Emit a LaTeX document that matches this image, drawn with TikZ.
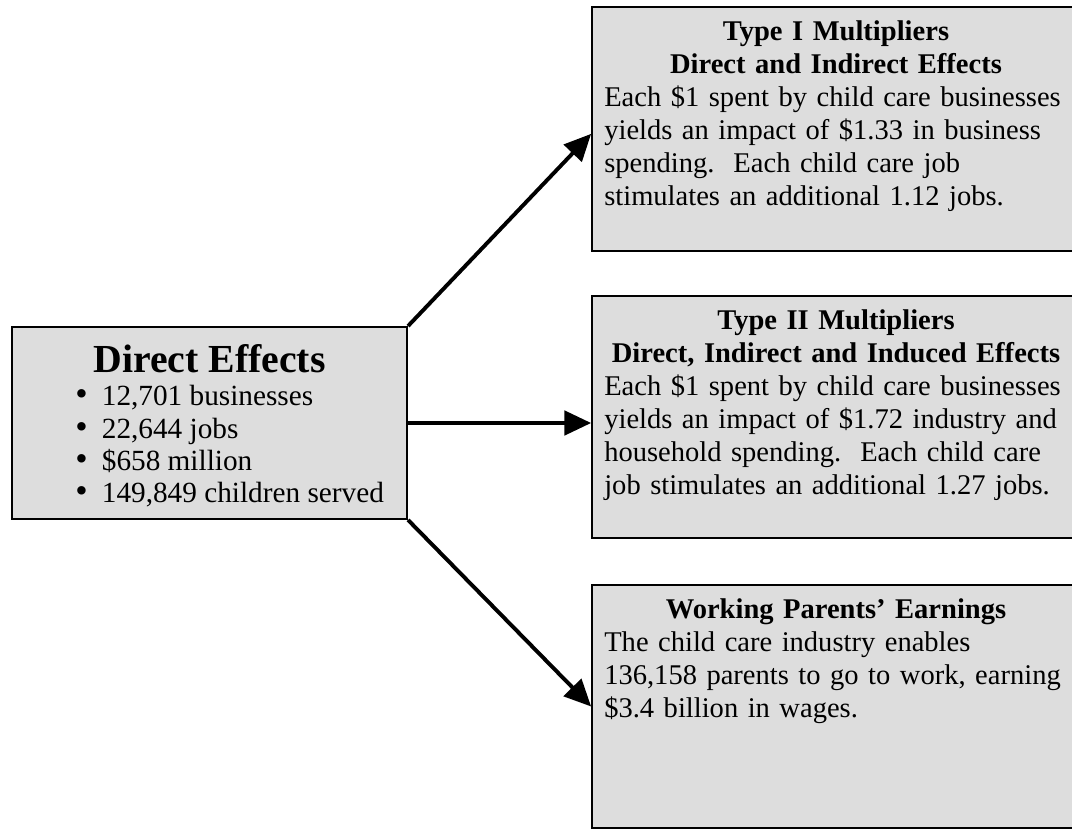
\documentclass[tikz,border=0pt]{standalone}
\usepackage{fontspec}
\setmainfont{Liberation Serif}
\usetikzlibrary{positioning, arrows.meta}
\definecolor{boxgray}{HTML}{DDDDDD}
\newcommand{\blt}{{\fontsize{14.5}{13}\selectfont\textbullet}\hspace{5.8pt}}
\tikzstyle{effect} = [rectangle, draw=black, line width=0.8pt, fill=boxgray, inner sep=0pt]
\tikzstyle{multiplier} = [rectangle, draw=black, line width=0.8pt, fill=boxgray, minimum width=200pt, inner sep=0pt]
\tikzstyle{boxtext} = [inner sep=0pt, text width=190pt, align=left, font=\fontsize{11.7}{13.5}\selectfont\hyphenpenalty 10000\relax]
\tikzstyle{arrow} = [line width=1.6pt, -{Triangle[length=11pt, width=10pt]}]

\begin{document}
\begin{tikzpicture}[x=0.41pt, y=-0.41pt]
        \useasboundingbox (0,0) rectangle (1072,829);
        \node (direct) [effect, minimum width=162pt, minimum height=78.7pt] at (209.5,423) {};
        \node (type1) [multiplier, minimum height=100pt] at (836,129) {};
        \node (type2) [multiplier, minimum height=99.2pt] at (836,417) {};
        \node (parents) [multiplier, minimum height=99.6pt] at (836,706.5) {};

        % texts in the boxes
        \node (directhead) [below=7.5pt of direct.north, inner sep=0pt, font=\fontsize{16.3}{18}\selectfont\bfseries] {Direct Effects};
        \node (directlist) [below right=24.2pt and 26.2pt of direct.north west, inner sep=0pt, align=left, font=\fontsize{12}{13.2}\selectfont]
            {\blt 12,701 businesses\\ \blt 22,644 jobs\\ \blt \$658 million\\ \blt 149,849 children served};
        \node (type1text) [boxtext, below=6pt of type1.north]
            {{\centering\bfseries Type I Multipliers\\ Direct and Indirect Effects\par}Each \$1 spent by child care businesses\\ yields an impact of \$1.33 in business\\ spending.\ \ Each child care job\\ stimulates an additional 1.12 jobs.};
        \node (type2text) [boxtext, below=6pt of type2.north]
            {{\centering\bfseries Type II Multipliers\\ Direct, Indirect and Induced Effects\par}Each \$1 spent by child care businesses\\ yields an impact of \$1.72 industry and\\ household spending.\ \ Each child care\\ job stimulates an additional 1.27 jobs.};
        \node (parentstext) [boxtext, below=6pt of parents.north]
            {{\centering\bfseries Working Parents' Earnings\par}The child care industry enables\\ 136,158 parents to go to work, earning\\ \$3.4 billion in wages.};

        \draw [arrow] (direct.north east) -- ([yshift=-2pt]type1.west);
        \draw [arrow] (direct.east) -- (direct.east -| type2.west);
        \draw [arrow] (direct.south east) -- (parents.west);
      \end{tikzpicture}
\end{document}
